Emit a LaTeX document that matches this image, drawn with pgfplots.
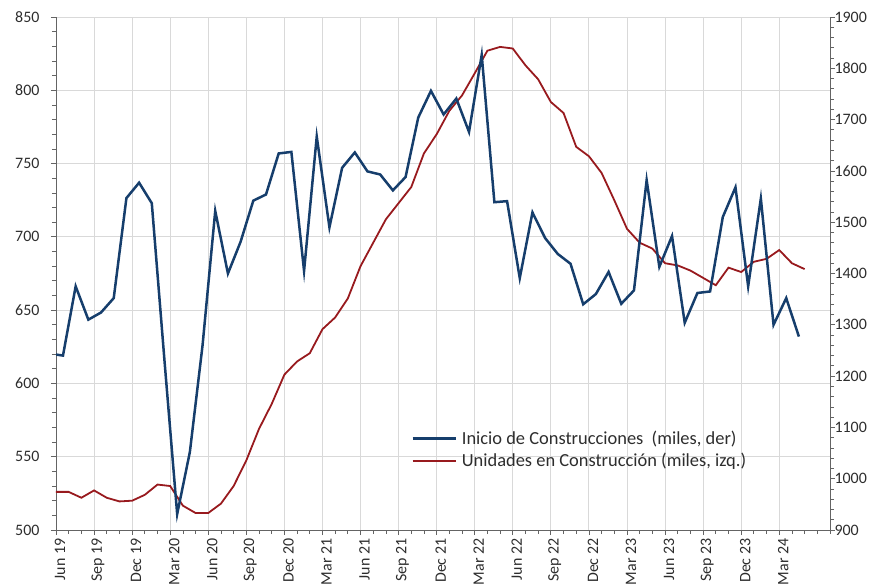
\documentclass[border=0pt]{standalone}
\usepackage{pgfplots}
\pgfplotsset{compat=1.18}
\usepackage{pgfplotstable}
\usepackage{fontspec}
\setmainfont{Carlito}

\definecolor{serazul}{RGB}{22,62,108}
\definecolor{serrojo}{RGB}{152,26,30}
\definecolor{rejilla}{RGB}{217,217,217}
\definecolor{ejes}{RGB}{100,100,100}
\definecolor{texto}{RGB}{45,45,45}

% Unidades en construccion (miles, eje izq.), mensual desde jun-19 (m=0)
\pgfplotstableread{
m v
0 526
1 526
2 522
3 527
4 522
5 519.5
6 520
7 524
8 531
9 530
10 516.6
11 511.6
12 511.6
13 518
14 530
15 547.5
16 569
17 586
18 606
19 615
20 620.6
21 637
22 645
23 658
24 680
25 696
26 712
27 723
28 734
29 757
30 770
31 786
32 796.5
33 811.6
34 827
35 829.6
36 828.5
37 817
38 807.5
39 792
40 784.5
41 761.4
42 755
43 743.6
44 725
45 705.5
46 696
47 692
48 682
49 680.5
50 677
51 672
52 667
53 679
54 676
55 683
56 685
57 691
58 682
59 678
}\unidades

% Inicio de construcciones (miles, eje der.)
\pgfplotstableread{
m v
0 1242
0.55 1240
1.55 1375
2.55 1310
3.55 1324
4.55 1352
5.55 1547
6.55 1577
7.55 1537
8.55 1230
9.55 931
10.55 1052
11.55 1260
12.55 1522
13.55 1400
14.55 1462
15.55 1542
16.55 1554
17.55 1634
18.55 1637
19.55 1405
20.55 1667
21.55 1490
22.55 1606
23.55 1636
24.55 1599
25.55 1593
26.55 1562
27.55 1588
28.55 1704
29.55 1756
30.55 1710
31.55 1741
32.55 1676
33.55 1826
34.55 1539
35.55 1541
36.55 1391
37.55 1519
38.55 1469
39.55 1438
40.55 1419
41.55 1340
42.55 1360
43.55 1403
44.55 1341
45.55 1367
46.55 1582
47.55 1413
48.55 1473
49.55 1304
50.55 1362
51.55 1365
52.55 1510
53.55 1568
54.55 1375
55.55 1546
56.55 1300
57.55 1352
58.55 1277
}\inicios

\begin{document}
\begin{tikzpicture}
% marco fijo del dibujo: area de trazado 774x513 con margenes como el original
\useasboundingbox (-56bp,-58bp) rectangle (819bp,530bp);
\pgfplotsset{
  base/.style={
    scale only axis, width=774bp, height=513bp,
    xmin=0, xmax=61,
    tick label style={font=\fontsize{16}{19}\selectfont, text=texto},
    /pgf/number format/assume math mode=true,
    /pgf/number format/1000 sep={},
    tick align=outside,
    major tick length=5bp, minor tick length=4bp,
    every tick/.style={ejes, line width=0.75bp},
    axis line style={ejes, line width=0.9bp},
  },
}
\begin{axis}[base,
  axis x line*=bottom, axis y line*=left,
  ymin=500, ymax=850, ytick distance=50, minor y tick num=4,
  yticklabel style={xshift=-8bp},
  xtick={0,3,...,57},
  xticklabels={Jun 19,Sep 19,Dec 19,Mar 20,Jun 20,Sep 20,Dec 20,Mar 21,Jun 21,Sep 21,Dec 21,Mar 22,Jun 22,Sep 22,Dec 22,Mar 23,Jun 23,Sep 23,Dec 23,Mar 24},
  minor xtick={0,...,61},
  xticklabel style={rotate=90, anchor=east, yshift=-4bp},
  grid=major, major grid style={rejilla, line width=0.9bp},
]
\addplot[serrojo, line width=1.8bp] table[x=m, y=v]{\unidades};
\end{axis}
\begin{axis}[base,
  axis x line=none, axis y line*=right,
  ymin=900, ymax=1900, ytick distance=100, minor y tick num=4,
  yticklabel style={xshift=-4bp},
  legend style={at={(0.455,0.201)}, anchor=north west, draw=none, fill=none,
    font=\fontsize{18.5}{21.5}\selectfont, text=texto, row sep=3bp,
    /tikz/every even column/.append style={column sep=0bp}},
  legend cell align=left,
  legend image code/.code={\draw[#1] (0bp,0bp) -- (43bp,0bp);},
  legend style={nodes={inner xsep=5bp}},
]
\addplot[serazul, line width=2.5bp] table[x=m, y=v]{\inicios};
\addlegendentry{Inicio de Construcciones\ \ (miles, der)}
\addlegendimage{serrojo, line width=2bp}
\addlegendentry{Unidades en Construcción (miles, izq.)}
\end{axis}
\end{tikzpicture}
\end{document}
